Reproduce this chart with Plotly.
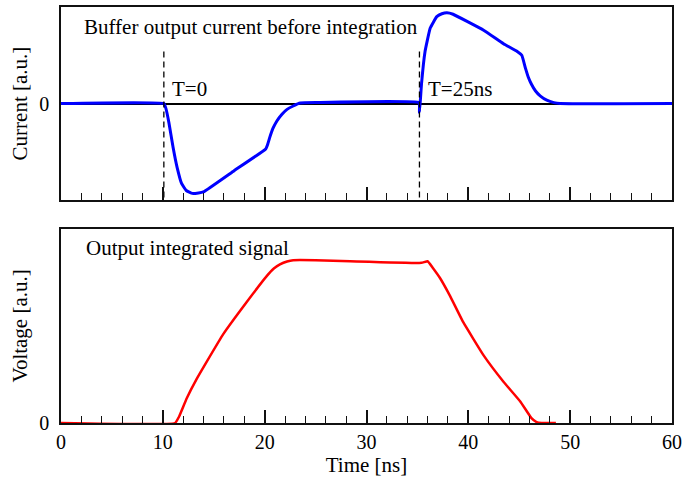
import plotly.graph_objects as go
from plotly.subplots import make_subplots

# ---- data ----
t_current = [0, 10.1, 10.3, 10.6, 11.0, 11.4, 11.85, 12.3, 12.9, 13.5, 13.98, 17.0, 20.1,
             20.3, 20.5, 20.8, 21.2, 21.7, 22.2, 22.8, 23.5, 25.0, 35.15, 35.2, 35.3,
             35.4, 35.75, 36.25, 36.9, 37.4, 37.9, 38.5, 41.5, 43.45, 44.8, 45.25,
             45.6, 45.9, 46.2, 46.6, 47.05, 47.7, 48.4, 49.0, 60]
current = [0, 0, -0.05, -0.2, -0.45, -0.66, -0.83, -0.9, -0.93, -0.925, -0.915, -0.695, -0.47,
           -0.42, -0.35, -0.26, -0.18, -0.11, -0.06, -0.025, 0.005, 0.01, 0.01, -0.09, 0.05,
           0.2, 0.54, 0.78, 0.9, 0.93, 0.94, 0.925, 0.76, 0.62, 0.54, 0.5,
           0.37, 0.27, 0.2, 0.13, 0.08, 0.035, 0.01, 0.0, 0.0]

t_voltage = [0, 11.2, 11.6, 12.35, 13.3, 14.3, 15.95, 18.2, 20.2, 20.9, 21.5, 22.2, 22.8,
             25.0, 28.4, 35.4, 36.0, 36.5, 37.2, 38.2, 39.5, 41.5, 43.45, 45.1, 46.2,
             46.7, 47.2, 48.6]
voltage = [0, 0, 0.04, 0.153, 0.27, 0.378, 0.551, 0.745, 0.908, 0.955, 0.98, 0.998, 1.006,
           1.006, 1.0, 0.99, 1.0, 0.96, 0.898, 0.786, 0.623, 0.418, 0.255, 0.133, 0.03,
           0.006, 0.0, 0.0]

marker_times = [10.1, 35.2]
marker_labels = ["T=0", "T=25ns"]
marker_top = 0.54

top_title = "Buffer output current before integration"
bottom_title = "Output integrated signal"
x_ticks = [0, 10, 20, 30, 40, 50, 60]

FONT = "Liberation Serif"
TXT = 21
TICK = 20

fig = make_subplots(rows=2, cols=1, vertical_spacing=0.0)

fig.add_trace(go.Scatter(x=t_current, y=current, mode="lines",
                         line=dict(color="#0000ff", width=3, shape="spline", smoothing=0.3),
                         showlegend=False), row=1, col=1)
fig.add_trace(go.Scatter(x=t_voltage, y=voltage, mode="lines",
                         line=dict(color="#ff0000", width=2.5, shape="spline", smoothing=0.3),
                         showlegend=False), row=2, col=1)

for t in marker_times:
    fig.add_trace(go.Scatter(x=[t, t], y=[marker_top, -1], mode="lines",
                             line=dict(color="black", width=1.3, dash="6px,4px"),
                             showlegend=False), row=1, col=1)

for t, lab in zip(marker_times, marker_labels):
    fig.add_annotation(x=t + 0.6, y=0.149, xref="x", yref="y", text=lab, showarrow=False,
                       xanchor="left", yanchor="middle", font=dict(family=FONT, size=TXT, color="black"))

fig.add_annotation(x=2.1, y=0.795, xref="x", yref="y", text=top_title, showarrow=False,
                   xanchor="left", yanchor="middle", font=dict(family=FONT, size=TXT, color="black"))
fig.add_annotation(x=2.3, y=1.084, xref="x2", yref="y2", text=bottom_title, showarrow=False,
                   xanchor="left", yanchor="middle", font=dict(family=FONT, size=TXT, color="black"))

axis_common = dict(showline=True, linecolor="#111", linewidth=1.5, mirror=True,
                   showgrid=False, zeroline=False)

xcommon = dict(axis_common, range=[0, 60], tickvals=x_ticks, ticks="inside", ticklen=13,
               tickwidth=1.5, tickcolor="#111",
               minor=dict(dtick=2, ticks="inside", ticklen=7, tickwidth=1.2, tickcolor="#111"),
               tickfont=dict(family=FONT, size=TICK, color="black"))

fig.update_xaxes(xcommon, row=1, col=1, showticklabels=False)
fig.update_xaxes(xcommon, row=2, col=1,
                 title=dict(text="Time [ns]", font=dict(family=FONT, size=TXT, color="black"), standoff=6))

fig.update_yaxes(axis_common, row=1, col=1, range=[-1, 1], tickvals=[0], ticktext=["0"], ticks="",
                 zeroline=True, zerolinecolor="black", zerolinewidth=1.5,
                 ticklabelstandoff=6,
                 tickfont=dict(family=FONT, size=TICK, color="black"),
                 title=dict(text="Current [a.u.]", font=dict(family=FONT, size=TXT, color="black"), standoff=6),
                 domain=[0.5357, 1])
fig.update_yaxes(axis_common, row=2, col=1, range=[0, 1.2], tickvals=[0], ticktext=["0"], ticks="",
                 ticklabelstandoff=6,
                 tickfont=dict(family=FONT, size=TICK, color="black"),
                 title=dict(text="Voltage [a.u.]", font=dict(family=FONT, size=TXT, color="black"), standoff=6),
                 domain=[0, 0.4667])

fig.update_layout(width=700, height=478, margin=dict(l=61, r=28, t=5, b=53),
                  plot_bgcolor="white", paper_bgcolor="white",
                  font=dict(family=FONT, color="black"))

fig.write_html("out.html", config={"displayModeBar": False},
               post_script="document.body.style.margin='0';document.body.style.padding='0';")
